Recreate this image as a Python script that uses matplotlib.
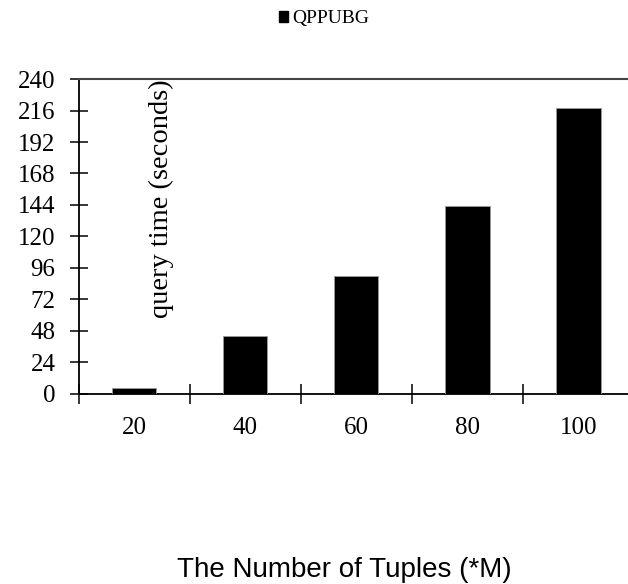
import matplotlib
matplotlib.use("Agg")
import matplotlib.pyplot as plt
from matplotlib.patches import Patch
import numpy as np

categories = ["20", "40", "60", "80", "100"]
query_time = [4, 44, 90, 143, 218]
y_ticks = [0, 24, 48, 72, 96, 120, 144, 168, 192, 216, 240]
series_name = "QPPUBG"

serif = ["Liberation Serif", "DejaVu Serif"]
sans = ["Liberation Sans", "DejaVu Sans"]

fig = plt.figure(figsize=(6.28, 5.84), dpi=100)
ax = fig.add_axes([0.125, 0.326, 0.888, 0.5385])

x = np.arange(len(categories))
ax.bar(x, query_time, width=0.4, color="black", edgecolor="#9a9a9a", linewidth=0.6, zorder=3)

ax.set_xlim(-0.5, 4.52)
ax.set_ylim(0, 240)
ax.set_yticks(y_ticks)
ax.set_yticklabels([str(t) for t in y_ticks], fontfamily=serif, fontsize=18)
ax.set_xticks(x)
ax.set_xticklabels(categories, fontfamily=serif, fontsize=18)
ax.set_xticks(np.arange(-0.5, 4.6, 1.0), minor=True)

ax.tick_params(axis="y", direction="inout", length=13, width=1.1, pad=10, colors="black")
ax.tick_params(axis="x", which="major", length=0, pad=17)
ax.tick_params(axis="x", which="minor", direction="inout", length=14, width=1.1)

for s in ["left", "bottom"]:
    ax.spines[s].set_linewidth(1.3)
    ax.spines[s].set_color("black")
ax.spines["top"].set_linewidth(1.5)
ax.spines["top"].set_color("#444444")
ax.spines["right"].set_visible(False)

ax.set_ylabel("query time (seconds)", fontfamily=serif, fontsize=20.5,
              rotation=90, ha="right", va="center", rotation_mode="anchor")
ax.yaxis.set_label_coords(0.148, 1.0)

ax.set_xlabel("The Number of Tuples (*M)", fontfamily=sans, fontsize=20,
              va="baseline")
ax.xaxis.set_label_coords(0.476, -0.5835)

handle = Patch(facecolor="black", edgecolor="black")
fig.legend([handle], [series_name], loc="center", bbox_to_anchor=(0.516, 0.968),
           frameon=False, prop={"family": serif, "size": 14},
           handlelength=0.5, handleheight=0.5, handletextpad=0.2, borderpad=0)

fig.savefig("out.png", dpi=100)
